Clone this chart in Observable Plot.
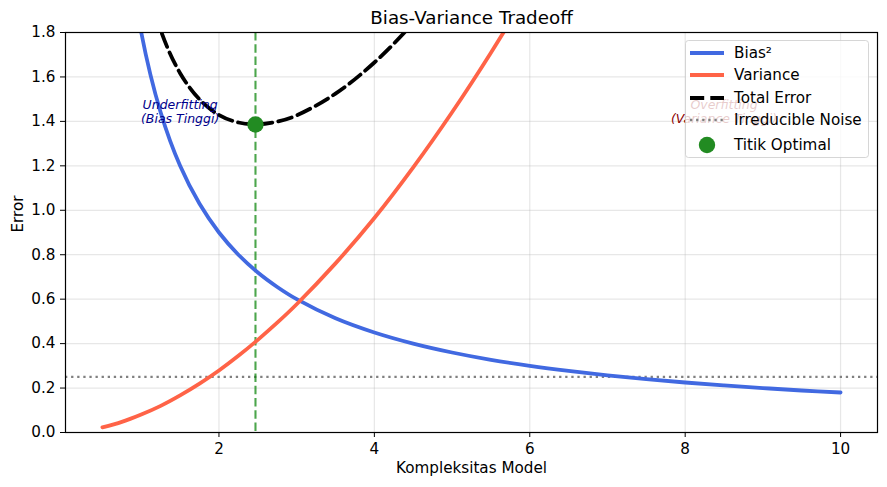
<!DOCTYPE html>
<html>
<head>
<meta charset="utf-8">
<script src="https://cdn.jsdelivr.net/npm/d3@7"></script>
<script src="https://cdn.jsdelivr.net/npm/@observablehq/plot@0.6"></script>
<style>
  html, body { margin: 0; padding: 0; background: #fff; }
  svg { font-family: "DejaVu Sans", sans-serif; }
</style>
</head>
<body>
<div id="chart"></div>
<script>
// Model complexity samples and values
const complexity = [0.5,0.75,1,1.25,1.5,1.75,2,2.25,2.5,2.75,3,3.5,4,4.5,5,5.5,6,6.5,7,7.5,8,8.5,9,9.5,10];
const biasSq     = [3.6,2.4,1.8,1.44,1.2,1.029,0.9,0.8,0.72,0.655,0.6,0.514,0.45,0.4,0.36,0.327,0.3,0.277,0.257,0.24,0.225,0.212,0.2,0.189,0.18];
const variance   = [0.023,0.048,0.081,0.12,0.167,0.22,0.279,0.345,0.417,0.494,0.577,0.761,0.965,1.193,1.441,1.709,1.997,2.30,2.63,2.98,3.34,3.72,4.13,4.55,4.99];
const totalError = [3.873,2.698,2.131,1.81,1.617,1.499,1.429,1.395,1.387,1.399,1.427,1.525,1.665,1.843,2.051,2.286,2.547,2.827,3.137,3.47,3.815,4.182,4.58,4.989,5.42];
const noiseLevel = [0.25];
const optimalX = [2.47];
const optimalY = [1.386];
const xTicks = [2,4,6,8,10];
const yTicks = [0,0.2,0.4,0.6,0.8,1.0,1.2,1.4,1.6,1.8];
const annotations = [
  {x: 1.5, y: 1.445, text: "Underfitting\n(Bias Tinggi)", color: "#00008B"},
  {x: 8.5, y: 1.445, text: "Overfitting\n(Variance Tinggi)", color: "#8B0000"}
];
const legendItems = [
  {label: "Bias²", kind: "line", color: "#4169E1", dash: null, w: 3.8},
  {label: "Variance", kind: "line", color: "#FF6347", dash: null, w: 3.8},
  {label: "Total Error", kind: "line", color: "black", dash: "14.2,6.1", w: 3.8},
  {label: "Irreducible Noise", kind: "line", color: "gray", dash: "2.3,3.8", w: 2.3},
  {label: "Titik Optimal", kind: "dot", color: "#228B22"}
];

const rows = complexity.map((x, i) => ({x, bias: biasSq[i], variance: variance[i], total: totalError[i]}));
const opt = optimalX.map((x, i) => ({x, y: optimalY[i]}));

const svg = Plot.plot({
  width: 887,
  height: 487,
  marginLeft: 65,
  marginRight: 10,
  marginTop: 32,
  marginBottom: 55,
  style: {fontFamily: "DejaVu Sans, sans-serif", fontSize: "15px", background: "white", color: "black"},
  x: {domain: [0.025, 10.475]},
  y: {domain: [0, 1.8]},
  marks: [
    Plot.gridX(xTicks, {stroke: "#b0b0b0", strokeOpacity: 0.3, strokeWidth: 1.2}),
    Plot.gridY(yTicks, {stroke: "#b0b0b0", strokeOpacity: 0.3, strokeWidth: 1.2}),
    Plot.axisX(xTicks, {tickSize: 5, tickPadding: 6, fontSize: 15.2, label: null, tickFormat: d => String(d)}),
    Plot.axisY(yTicks, {tickSize: 5, tickPadding: 5, fontSize: 15.2, label: null, tickFormat: d => d.toFixed(1)}),
    Plot.ruleY(noiseLevel, {stroke: "gray", strokeWidth: 2.3, strokeDasharray: "2.3,3.8"}),
    Plot.ruleX(optimalX, {stroke: "green", strokeOpacity: 0.7, strokeWidth: 2.1, strokeDasharray: "8.5,3.7"}),
    Plot.line(rows, {x: "x", y: "bias", stroke: "#4169E1", strokeWidth: 3.8, curve: "catmull-rom", clip: true}),
    Plot.line(rows, {x: "x", y: "variance", stroke: "#FF6347", strokeWidth: 3.8, curve: "catmull-rom", clip: true}),
    Plot.line(rows, {x: "x", y: "total", stroke: "black", strokeWidth: 3.8, strokeDasharray: "14.2,6.1", curve: "catmull-rom", clip: true}),
    Plot.dot(opt, {x: "x", y: "y", r: 8.2, fill: "#228B22", stroke: "none"}),
    Plot.text(annotations, {x: "x", y: "y", text: "text", fill: "color", fontSize: 12.5, fontStyle: "italic", lineHeight: 1.15, textAnchor: "middle"}),
    Plot.frame({stroke: "black", strokeWidth: 1.2}),
    Plot.text(["Bias-Variance Tradeoff"], {frameAnchor: "top", lineAnchor: "middle", dy: -14, fontSize: 18.3, fill: "black"}),
    Plot.text(["Kompleksitas Model"], {frameAnchor: "bottom", lineAnchor: "middle", dy: 36, fontSize: 15.2, fill: "black"}),
    Plot.text(["Error"], {frameAnchor: "left", lineAnchor: "middle", dx: -47, rotate: -90, fontSize: 15.2, fill: "black"})
  ]
});

// Legend (upper right, matplotlib-style)
const g = d3.select(svg).append("g")
  .attr("font-family", "DejaVu Sans, sans-serif").attr("font-size", 15.2).attr("text-anchor", "start");
g.append("rect").attr("x", 685.5).attr("y", 40.5).attr("width", 183).attr("height", 117)
  .attr("rx", 3).attr("fill", "white").attr("fill-opacity", 0.8).attr("stroke", "#cccccc").attr("stroke-opacity", 0.8);
const rowY = [53, 75, 98, 120, 145];
legendItems.forEach((it, i) => {
  const y = rowY[i];
  if (it.kind === "line") {
    const l = g.append("line").attr("x1", 690).attr("x2", 724).attr("y1", y).attr("y2", y)
      .attr("stroke", it.color).attr("stroke-width", it.w);
    if (it.dash) l.attr("stroke-dasharray", it.dash);
  } else {
    g.append("circle").attr("cx", 707).attr("cy", y).attr("r", 8.2).attr("fill", it.color);
  }
  g.append("text").attr("x", 734).attr("y", y).attr("dy", "0.35em").attr("fill", "black")
    .attr("text-anchor", "start").text(it.label);
});

document.getElementById("chart").appendChild(svg);
</script>
</body>
</html>
